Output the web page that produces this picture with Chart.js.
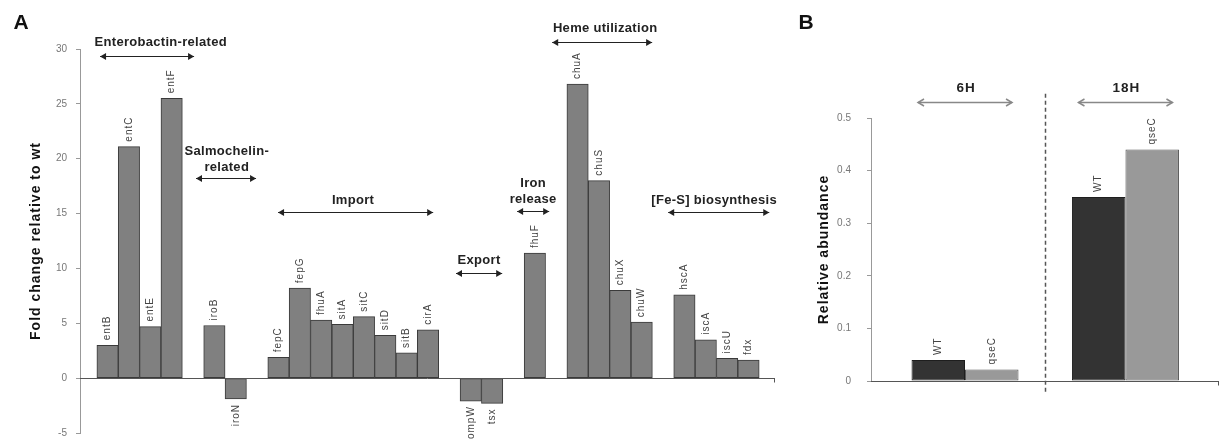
<!DOCTYPE html>
<html>
<head>
<meta charset="utf-8">
<script src="https://cdn.jsdelivr.net/npm/chart.js"></script>
<style>
  body { margin: 0; background: #fff; }
  #wrap { position: relative; width: 1225px; height: 448px; overflow: hidden; background: #fff; }
  #chartA { position: absolute; left: 0; top: 0; }
  #chartB { position: absolute; left: 790px; top: 0; }
</style>
</head>
<body>
<div id="wrap">
  <canvas id="chartA" width="790" height="448"></canvas>
  <canvas id="chartB" width="435" height="448"></canvas>
</div>
<script>
// A - fold change of iron genes, grouped by function
const genes = ['entB', 'entC', 'entE', 'entF', 'iroB', 'iroN',
  'fepC', 'fepG', 'fhuA', 'sitA', 'sitC', 'sitD', 'sitB', 'cirA',
  'ompW', 'tsx', 'fhuF', 'chuA', 'chuS', 'chuX', 'chuW',
  'hscA', 'iscA', 'iscU', 'fdx'];
const foldChange = [3.0, 21.1, 4.7, 25.5, 4.8, -1.9,
  1.9, 8.2, 5.3, 4.9, 5.6, 3.9, 2.3, 4.4,
  -2.1, -2.3, 11.4, 26.8, 18.0, 8.0, 5.1,
  7.6, 3.5, 1.8, 1.65];
const groupNames = ['Enterobactin-related', 'Salmochelin-\nrelated', 'Import', 'Export',
  'Iron\nrelease', 'Heme utilization', '[Fe-S] biosynthesis'];
const groupSizes = [4, 2, 8, 2, 1, 4, 4];
const foldTicks = [-5, 30, 5]; // min, max, step

// B - relative abundance
const timepoints = ['6H', '18H'];
const strains = ['WT', 'qseC'];
const wtAbundance = [0.04, 0.35];
const qseCAbundance = [0.022, 0.44];
const abundanceTicks = [0, 0.5, 0.1];

Chart.defaults.font.family = '"Liberation Sans", Arial, sans-serif';

// one empty slot between groups
const slotX = [];
let slot = 0;
groupSizes.forEach(n => {
  for (let k = 0; k < n; k++) slotX.push(slot++);
  slot++;
});

// where group titles and arrows sit (axis units)
const groupMarks = [
  { tx: 2.49, ty: 30.6, x0: -0.35, x1: 4.05, ay: 29.36 },
  { tx: 5.58, ty: 20.7, x0: 4.14, x1: 6.95, ay: 18.25 },
  { tx: 11.49, ty: 16.17, x0: 7.98, x1: 15.24, ay: 15.18 },
  { tx: 17.39, ty: 10.75, x0: 16.31, x1: 18.47, ay: 9.58 },
  { tx: 19.92, ty: 17.71, x0: 19.17, x1: 20.67, ay: 15.27 },
  { tx: 23.29, ty: 31.9, x0: 20.81, x1: 25.49, ay: 30.62 },
  { tx: 28.39, ty: 16.17, x0: 26.24, x1: 30.97, ay: 15.18 }
];

function arrow(ctx, x0, x1, y, color, filled) {
  ctx.save();
  ctx.strokeStyle = color;
  ctx.fillStyle = color;
  ctx.lineWidth = filled ? 1.2 : 1.5;
  ctx.beginPath();
  ctx.moveTo(x0, y); ctx.lineTo(x1, y);
  ctx.stroke();
  [[x0, 1], [x1, -1]].forEach(([tx, d]) => {
    ctx.beginPath();
    ctx.moveTo(tx + d * 6, y - 3.5);
    ctx.lineTo(tx, y);
    ctx.lineTo(tx + d * 6, y + 3.5);
    if (filled) { ctx.closePath(); ctx.fill(); } else ctx.stroke();
  });
  ctx.restore();
}

function vText(ctx, text, x, y, align) {
  ctx.save();
  ctx.translate(x, y);
  ctx.rotate(-Math.PI / 2);
  ctx.textAlign = align;
  ctx.fillText(text, 0, 0);
  ctx.restore();
}

const decorA = {
  id: 'decorA',
  afterDatasetsDraw(chart) {
    const { ctx, chartArea, scales: { x, y } } = chart;
    ctx.save();
    // zero line
    const y0 = Math.round(y.getPixelForValue(0)) + 0.5;
    ctx.strokeStyle = '#555';
    ctx.lineWidth = 1;
    ctx.beginPath();
    ctx.moveTo(chartArea.left, y0); ctx.lineTo(chartArea.right, y0);
    ctx.moveTo(chartArea.right - 0.5, y0); ctx.lineTo(chartArea.right - 0.5, y0 + 4);
    ctx.stroke();

    // gene names over / under bars
    ctx.font = '10px "Liberation Sans", Arial, sans-serif';
    ctx.fillStyle = '#444';
    ctx.textBaseline = 'middle';
    ctx.letterSpacing = '1px';
    chart.getDatasetMeta(0).data.forEach((bar, i) => {
      const up = foldChange[i] >= 0;
      vText(ctx, genes[i], bar.x, up ? bar.y - 5 : bar.y + 5, up ? 'left' : 'right');
    });

    // group titles and arrows
    ctx.font = 'bold 13px "Liberation Sans", Arial, sans-serif';
    ctx.letterSpacing = '0.3px';
    ctx.fillStyle = '#222';
    ctx.textAlign = 'center';
    groupMarks.forEach((m, g) => {
      const tx = x.getPixelForValue(m.tx);
      const ty = y.getPixelForValue(m.ty);
      groupNames[g].split('\n').forEach((line, k) => ctx.fillText(line, tx, ty + k * 16));
      arrow(ctx, x.getPixelForValue(m.x0), x.getPixelForValue(m.x1),
        Math.round(y.getPixelForValue(m.ay)) + 0.5, '#222', true);
    });

    // axis title and panel letter
    ctx.font = 'bold 14px "Liberation Sans", Arial, sans-serif';
    ctx.letterSpacing = '1px';
    ctx.fillStyle = '#111';
    vText(ctx, 'Fold change relative to wt', 36, (chartArea.top + chartArea.bottom) / 2, 'center');
    ctx.letterSpacing = '0px';
    ctx.font = 'bold 21px "Liberation Sans", Arial, sans-serif';
    ctx.textAlign = 'center';
    ctx.fillText('A', 21, 23);
    ctx.restore();
  }
};

new Chart(document.getElementById('chartA'), {
  type: 'bar',
  data: {
    datasets: [{
      label: 'Fold change',
      data: genes.map((g, i) => ({ x: slotX[i], y: foldChange[i] })),
      backgroundColor: '#808080',
      borderColor: '#3a3a3a',
      borderWidth: 1,
      borderSkipped: false,
      barPercentage: 1,
      categoryPercentage: 1
    }]
  },
  options: {
    responsive: false,
    animation: false,
    devicePixelRatio: 1,
    layout: { padding: { left: 0, top: 49, right: 15, bottom: 12 } },
    plugins: { legend: { display: false }, tooltip: { enabled: false } },
    scales: {
      x: {
        type: 'linear', display: false, offset: false, grid: { offset: false },
        min: -1.29, max: 31.24,
        afterBuildTicks: s => { s.ticks = slotX.map(v => ({ value: v })); }
      },
      y: {
        min: foldTicks[0], max: foldTicks[1],
        ticks: { stepSize: foldTicks[2], color: '#777', font: { size: 10 }, padding: 9 },
        grid: { drawOnChartArea: false, tickLength: 4, color: '#999' },
        border: { color: '#999' },
        afterFit: s => { s.width = 80; }
      }
    }
  },
  plugins: [decorA]
});

const decorB = {
  id: 'decorB',
  afterDatasetsDraw(chart) {
    const { ctx, chartArea, scales: { x, y } } = chart;
    ctx.save();
    const y0 = Math.round(y.getPixelForValue(0)) + 0.5;
    ctx.strokeStyle = '#555';
    ctx.lineWidth = 1;
    ctx.beginPath();
    ctx.moveTo(chartArea.left, y0); ctx.lineTo(chartArea.right, y0);
    ctx.moveTo(chartArea.right - 0.5, y0); ctx.lineTo(chartArea.right - 0.5, y0 + 4);
    ctx.stroke();

    // dashed divider between time points
    const xd = Math.round(x.getPixelForValue(0.5)) + 0.5;
    ctx.setLineDash([4, 3]);
    ctx.strokeStyle = '#555';
    ctx.lineWidth = 1.5;
    ctx.beginPath();
    ctx.moveTo(xd, y.getPixelForValue(0.546));
    ctx.lineTo(xd, y.getPixelForValue(-0.023));
    ctx.stroke();
    ctx.setLineDash([]);

    // strain names over bars
    ctx.font = '10px "Liberation Sans", Arial, sans-serif';
    ctx.fillStyle = '#444';
    ctx.textBaseline = 'middle';
    ctx.letterSpacing = '1px';
    strains.forEach((s, d) => {
      chart.getDatasetMeta(d).data.forEach(bar => vText(ctx, s, bar.x, bar.y - 5, 'left'));
    });
    ctx.letterSpacing = '0px';

    // time point titles with arrows
    ctx.font = 'bold 13.5px "Liberation Sans", Arial, sans-serif';
    ctx.fillStyle = '#222';
    ctx.textAlign = 'center';
    timepoints.forEach((t, i) => {
      const cx = x.getPixelForValue(i);
      ctx.letterSpacing = '1px';
      ctx.fillText(t, cx + 1, y.getPixelForValue(0.557));
      ctx.letterSpacing = '0px';
      arrow(ctx, cx - 47, cx + 47, Math.round(y.getPixelForValue(0.531)) + 0.5, '#888', false);
    });

    ctx.font = 'bold 14px "Liberation Sans", Arial, sans-serif';
    ctx.letterSpacing = '1px';
    ctx.fillStyle = '#111';
    vText(ctx, 'Relative abundance', 34, (chartArea.top + chartArea.bottom) / 2, 'center');
    ctx.letterSpacing = '0px';
    ctx.font = 'bold 21px "Liberation Sans", Arial, sans-serif';
    ctx.textAlign = 'center';
    ctx.fillText('B', 16, 23);
    ctx.restore();
  }
};

new Chart(document.getElementById('chartB'), {
  type: 'bar',
  data: {
    datasets: [{
      label: strains[0],
      data: timepoints.map((t, i) => ({ x: i, y: wtAbundance[i] })),
      backgroundColor: '#333333',
      borderColor: '#1e1e1e',
      borderWidth: 1,
      borderSkipped: false
    }, {
      label: strains[1],
      data: timepoints.map((t, i) => ({ x: i, y: qseCAbundance[i] })),
      backgroundColor: '#999999',
      borderColor: '#555555',
      borderWidth: 1,
      borderSkipped: false
    }]
  },
  options: {
    responsive: false,
    animation: false,
    devicePixelRatio: 1,
    datasets: { bar: { barPercentage: 1, categoryPercentage: 0.667 } },
    layout: { padding: { left: 0, top: 118, right: 6, bottom: 67 } },
    plugins: { legend: { display: false }, tooltip: { enabled: false } },
    scales: {
      x: {
        type: 'linear', display: false, offset: false, grid: { offset: false },
        min: -0.586, max: 1.583,
        afterBuildTicks: s => { s.ticks = timepoints.map((t, i) => ({ value: i })); }
      },
      y: {
        min: abundanceTicks[0], max: abundanceTicks[1],
        ticks: { stepSize: abundanceTicks[2], color: '#777', font: { size: 10 }, padding: 16 },
        grid: { drawOnChartArea: false, tickLength: 4, color: '#999' },
        border: { color: '#999' },
        afterFit: s => { s.width = 81; }
      }
    }
  },
  plugins: [decorB]
});
</script>
</body>
</html>
